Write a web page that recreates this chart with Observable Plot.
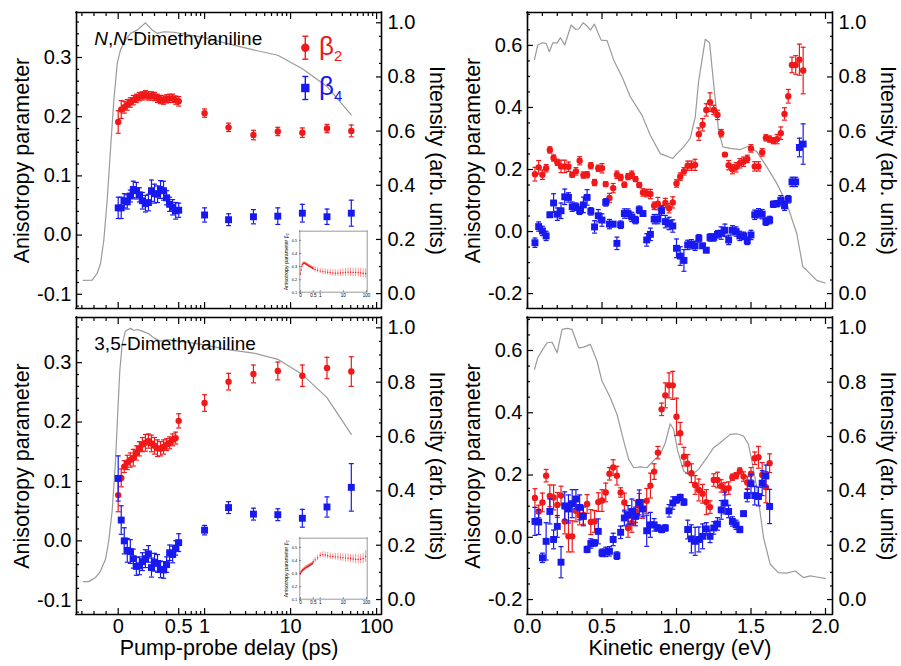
<!DOCTYPE html>
<html><head><meta charset="utf-8">
<script src="https://cdn.jsdelivr.net/npm/d3@7"></script>
<script src="https://cdn.jsdelivr.net/npm/@observablehq/plot@0.6"></script>
<style>
html,body{margin:0;padding:0;background:#fff;}
#root{position:relative;width:901px;height:666px;overflow:hidden;font-family:"Liberation Sans",Arial,sans-serif;}
#root svg{position:absolute;}
</style></head><body><div id="root"></div>
<script>
// ---------------- DATA ----------------
// pump-probe delays (ps)
const delayDense = [0,0.025,0.05,0.075,0.1,0.125,0.15,0.175,0.2,0.225,0.25,0.275,0.3,0.325,0.35,0.375,0.4,0.425,0.45,0.475,0.5];
const delayLong = [1,1.9,3.7,7.1,13.7,26.5,50.8];
const delays = delayDense.concat(delayLong);

// N,N-Dimethylaniline, time-resolved
const nnB2 = [0.191,0.212,0.216,0.220,0.224,0.228,0.231,0.234,0.235,0.237,0.235,0.235,0.234,0.231,0.229,0.228,0.230,0.231,0.231,0.228,0.226, 0.206,0.182,0.169,0.175,0.173,0.180,0.176];
const nnB2Err = [0.019,0.015,0.010,0.009,0.008,0.008,0.007,0.007,0.007,0.007,0.007,0.007,0.007,0.007,0.007,0.007,0.007,0.007,0.007,0.007,0.008, 0.007,0.007,0.008,0.007,0.008,0.007,0.010];
const nnB4 = [0.046,0.046,0.058,0.056,0.066,0.077,0.075,0.068,0.058,0.053,0.055,0.075,0.070,0.069,0.077,0.075,0.063,0.052,0.047,0.041,0.042, 0.034,0.026,0.031,0.032,0.037,0.031,0.037];
const nnB4Err = [0.018,0.018,0.012,0.012,0.010,0.014,0.014,0.012,0.014,0.014,0.014,0.018,0.016,0.014,0.015,0.016,0.012,0.012,0.013,0.014,0.012, 0.012,0.010,0.012,0.014,0.015,0.013,0.022];
const nnIntDelay = [-0.289,-0.215,-0.174,-0.146,-0.119,-0.091,-0.064,-0.036,-0.008,0.019,0.06,0.102,0.157,0.226,0.281,0.322,0.377,0.46,1,1.9,3.7,7.1,13.7,26.5,50.8];
const nnIntTime = [0.049,0.05,0.075,0.111,0.197,0.345,0.53,0.714,0.85,0.9,0.936,0.961,0.973,1.0,0.973,0.961,0.967,0.965,0.945,0.922,0.9,0.88,0.83,0.765,0.66];

// 3,5-Dimethylaniline, time-resolved
const dmB2 = [0.077,0.106,0.125,0.132,0.136,0.140,0.148,0.155,0.162,0.165,0.168,0.164,0.160,0.156,0.155,0.158,0.162,0.165,0.170,0.173,0.202, 0.232,0.268,0.281,0.286,0.278,0.291,0.285];
const dmB2Err = [0.028,0.015,0.010,0.012,0.012,0.014,0.012,0.012,0.012,0.014,0.012,0.014,0.014,0.014,0.012,0.012,0.010,0.010,0.010,0.010,0.012, 0.014,0.014,0.015,0.015,0.018,0.018,0.025];
const dmB4 = [0.105,0.035,0.000,-0.016,-0.018,-0.030,-0.043,-0.042,-0.035,-0.030,-0.022,-0.045,-0.036,-0.038,-0.048,-0.049,-0.040,-0.020,-0.023,-0.012,-0.003, 0.018,0.056,0.045,0.044,0.038,0.057,0.090];
const dmB4Err = [0.038,0.024,0.022,0.020,0.020,0.016,0.015,0.015,0.015,0.015,0.014,0.016,0.015,0.015,0.014,0.014,0.013,0.013,0.014,0.012,0.015, 0.008,0.010,0.010,0.010,0.015,0.017,0.040];
const dmIntDelay = [-0.289,-0.243,-0.188,-0.146,-0.105,-0.078,-0.05,-0.022,-0.003,0.013,0.033,0.06,0.102,0.129,0.157,0.198,0.253,0.294,0.35,0.405,0.46,0.561,0.915,1.87,3.7,7.1,13.7,26.5,50.8];
const dmIntTime = [0.066,0.066,0.081,0.105,0.148,0.216,0.326,0.51,0.694,0.84,0.939,0.988,0.998,0.99,0.994,0.988,0.978,0.963,0.951,0.957,0.953,0.949,0.939,0.92,0.907,0.884,0.828,0.743,0.608];

// kinetic energy bins (eV)
const nnEnergy = [0.05,0.075,0.1,0.125,0.15,0.175,0.2,0.225,0.25,0.275,0.3,0.325,0.35,0.375,0.4,0.425,0.45,0.475,0.5,0.525,0.55,0.575,0.6,0.625,0.65,0.675,0.7,0.725,0.75,0.775,0.8,0.825,0.85,0.875,0.9,0.925,0.95,0.975,1,1.025,1.05,1.075,1.1,1.125,1.15,1.175,1.2,1.225,1.25,1.275,1.3,1.325,1.35,1.375,1.4,1.425,1.45,1.475,1.5,1.525,1.55,1.575,1.6,1.625,1.65,1.675,1.7,1.725,1.75,1.775,1.8,1.825,1.85];
const dmEnergy = [0.05,0.075,0.1,0.125,0.15,0.175,0.2,0.225,0.25,0.275,0.3,0.325,0.35,0.375,0.4,0.425,0.45,0.475,0.5,0.525,0.55,0.575,0.6,0.625,0.65,0.675,0.7,0.725,0.75,0.775,0.8,0.825,0.85,0.875,0.9,0.925,0.95,0.975,1,1.025,1.05,1.075,1.1,1.125,1.15,1.175,1.2,1.225,1.25,1.275,1.3,1.325,1.35,1.375,1.4,1.425,1.45,1.475,1.5,1.525,1.55,1.575,1.6,1.625];

// N,N-Dimethylaniline, energy-resolved
const nnEB2 = [0.185,0.207,0.183,0.204,0.263,0.237,0.223,0.210,0.210,0.209, 0.183,0.194,0.228,0.182,0.183,0.212,0.158,0.204,0.204,0.153, 0.108,0.140,0.183,0.174,0.151,0.177,0.183,0.169,0.150,0.126, 0.124,0.121,0.083,0.090,0.072,0.092,0.075,0.094,0.155,0.177, 0.194,0.212,0.212,0.215,0.314,0.344,0.392,0.417,0.392,0.376, 0.317,0.248,0.214,0.201,0.207,0.220,0.225,0.234,0.268,0.210, 0.210,0.255,0.302,0.298,0.293,0.298,0.317,0.379,0.436,0.537, 0.537,0.554,0.519];
const nnEB2Err = [0.022,0.022,0.015,0.012,0.010,0.010,0.010,0.020,0.020,0.015, 0.008,0.012,0.013,0.010,0.010,0.010,0.010,0.010,0.015,0.008, 0.015,0.015,0.012,0.010,0.008,0.010,0.012,0.008,0.008,0.012, 0.012,0.015,0.012,0.020,0.012,0.015,0.015,0.018,0.012,0.012, 0.012,0.015,0.015,0.018,0.020,0.020,0.020,0.030,0.015,0.015, 0.012,0.005,0.015,0.015,0.015,0.015,0.015,0.012,0.012,0.015, 0.015,0.012,0.010,0.010,0.010,0.015,0.020,0.020,0.022,0.025, 0.030,0.050,0.075];
const nnEB4 = [-0.036,0.016,0.002,-0.014,0.054,0.092,0.056,0.067,0.112,0.110, 0.080,0.080,0.067,0.086,0.110,0.065,0.015,0.051,0.037,0.094, 0.024,0.024,-0.038,0.022,0.058,0.058,0.047,0.037,0.070,0.058, -0.027,-0.009,0.040,0.040,0.067,0.032,0.026,0.018,-0.054,-0.079, -0.093,-0.043,-0.041,-0.046,-0.022,-0.046,-0.060,-0.019,-0.019,-0.009, -0.005,0.004,-0.027,0.004,0.000,-0.014,-0.014,-0.030,-0.011,0.054, 0.059,0.056,0.032,0.037,0.088,0.090,0.101,0.083,0.104,0.160, 0.160,0.271,0.282];
const nnEB4Err = [0.015,0.015,0.015,0.015,0.008,0.030,0.020,0.025,0.025,0.015, 0.015,0.012,0.012,0.025,0.025,0.012,0.020,0.020,0.020,0.012, 0.015,0.008,0.020,0.012,0.015,0.015,0.015,0.012,0.012,0.008, 0.020,0.020,0.015,0.015,0.015,0.020,0.020,0.020,0.030,0.030, 0.035,0.015,0.015,0.015,0.012,0.008,0.008,0.012,0.012,0.012, 0.020,0.020,0.015,0.015,0.015,0.015,0.012,0.012,0.015,0.015, 0.015,0.015,0.012,0.012,0.010,0.010,0.015,0.015,0.012,0.015, 0.015,0.030,0.065];
const nnIntEnergy = [0.047,0.069,0.098,0.125,0.147,0.17,0.199,0.221,0.25,0.293,0.322,0.344,0.373,0.4,0.422,0.449,0.494,0.534,0.579,0.635,0.69,0.768,0.824,0.891,0.976,1.003,1.048,1.092,1.126,1.148,1.171,1.193,1.222,1.249,1.282,1.311,1.361,1.428,1.483,1.539,1.606,1.673,1.74,1.807,1.848,1.874,1.941,1.997];
const nnIntE = [0.865,0.918,0.926,0.924,0.893,0.926,0.926,0.945,0.918,0.992,0.976,0.977,1.0,0.988,0.973,0.995,0.936,0.934,0.862,0.8,0.727,0.659,0.585,0.517,0.499,0.517,0.542,0.573,0.653,0.782,0.862,0.939,0.926,0.776,0.604,0.542,0.536,0.532,0.544,0.524,0.468,0.407,0.333,0.222,0.099,0.086,0.049,0.039];

// 3,5-Dimethylaniline, energy-resolved
const dmEB2 = [0.126,0.083,0.112,0.198,0.133,0.128,0.104,0.134,0.051,0.003, 0.003,0.085,0.070,0.072,0.107,0.049,0.051,0.113,0.118,0.144, 0.204,0.224,0.198,0.144,0.112,0.030,0.046,0.083,0.101,0.091, 0.117,0.166,0.211,0.272,0.411,0.456,0.488,0.488,0.387,0.334, 0.259,0.236,0.206,0.168,0.152,0.140,0.113,0.097,0.184,0.184, 0.165,0.156,0.158,0.193,0.198,0.213,0.195,0.176,0.204,0.254, 0.257,0.200,0.161,0.238];
const dmEB2Err = [0.030,0.020,0.030,0.020,0.035,0.040,0.040,0.030,0.040,0.050, 0.050,0.035,0.030,0.030,0.030,0.040,0.035,0.030,0.035,0.030, 0.020,0.025,0.030,0.015,0.030,0.030,0.030,0.035,0.040,0.030, 0.040,0.040,0.025,0.020,0.020,0.040,0.040,0.045,0.060,0.035, 0.030,0.030,0.030,0.030,0.035,0.030,0.040,0.020,0.020,0.025, 0.020,0.020,0.020,0.010,0.010,0.010,0.015,0.020,0.020,0.020, 0.035,0.040,0.050,0.030];
const dmEB4 = [0.051,0.049,-0.066,-0.013,0.083,-0.007,0.035,-0.080,0.101,0.091, 0.108,0.123,0.096,0.067,-0.039,-0.020,-0.018,0.019,-0.050,-0.047, -0.045,-0.007,-0.059,0.016,0.062,0.072,0.083,0.067,0.112,0.091, 0.021,0.040,0.040,0.030,0.025,0.030,0.085,0.110,0.120,0.128, 0.113,0.025,-0.005,-0.013,-0.007,0.003,0.027,0.003,0.030,0.043, 0.088,0.110,0.083,0.051,0.040,0.025,0.076,0.134,0.172,0.134, 0.131,0.174,0.197,0.099];
const dmEB4Err = [0.045,0.040,0.015,0.060,0.040,0.030,0.035,0.050,0.045,0.045, 0.045,0.030,0.040,0.030,0.010,0.015,0.010,0.040,0.012,0.015, 0.015,0.020,0.012,0.020,0.025,0.030,0.040,0.030,0.040,0.025, 0.050,0.040,0.020,0.010,0.010,0.010,0.020,0.020,0.010,0.010, 0.010,0.030,0.045,0.045,0.040,0.040,0.020,0.020,0.020,0.020, 0.030,0.035,0.020,0.015,0.015,0.010,0.008,0.020,0.030,0.030, 0.030,0.040,0.035,0.055];
const dmIntEnergy = [0.047,0.069,0.098,0.132,0.165,0.199,0.232,0.266,0.299,0.344,0.378,0.422,0.467,0.5,0.556,0.601,0.646,0.679,0.713,0.757,0.802,0.847,0.891,0.925,0.958,0.981,1.008,1.048,1.092,1.148,1.204,1.249,1.293,1.361,1.405,1.45,1.483,1.506,1.539,1.584,1.629,1.684,1.74,1.796,1.852,1.897,1.941,1.997];
const dmIntE = [0.847,0.89,0.917,0.945,0.947,0.908,0.994,0.998,0.994,0.926,0.929,0.939,0.877,0.804,0.743,0.681,0.583,0.516,0.485,0.488,0.485,0.512,0.534,0.577,0.647,0.626,0.547,0.473,0.455,0.479,0.522,0.559,0.577,0.608,0.61,0.602,0.571,0.51,0.412,0.228,0.13,0.099,0.097,0.105,0.081,0.087,0.083,0.078];

// insets (beta2, wide delay range)
const insetDelay = [0,0.025,0.05,0.075,0.1,0.125,0.15,0.175,0.2,0.225,0.25,0.275,0.3,0.325,0.35,0.375,0.4,0.425,0.45,0.475,0.5, 0.6,0.77,1.0,1.3,1.65,2.1,2.7,3.5,4.5,5.8,7.5,9.6,12.4,16,20.5,26.5,34,44,56,72,92];
const insetNnB2 = [0.245,0.275,0.300,0.315,0.322,0.326,0.326,0.324,0.322,0.318,0.315,0.312,0.308,0.305,0.302,0.300,0.297,0.294,0.291,0.288,0.285, 0.278,0.272,0.266,0.262,0.260,0.257,0.255,0.252,0.250,0.250,0.252,0.254,0.256,0.258,0.258,0.256,0.255,0.254,0.252,0.250,0.248];
const insetNnErr = [0.015,0.012,0.012,0.01,0.01,0.01,0.01,0.01,0.01,0.01,0.01,0.01,0.01,0.01,0.01,0.01,0.01,0.01,0.01,0.01,0.012, 0.02,0.02,0.02,0.022,0.022,0.022,0.025,0.025,0.025,0.025,0.028,0.028,0.03,0.03,0.032,0.032,0.032,0.035,0.035,0.035,0.035];
const insetDmB2 = [0.300,0.310,0.318,0.324,0.328,0.332,0.336,0.340,0.344,0.347,0.350,0.353,0.356,0.359,0.362,0.365,0.368,0.371,0.374,0.378,0.390, 0.405,0.420,0.440,0.445,0.442,0.436,0.432,0.430,0.428,0.426,0.424,0.422,0.420,0.418,0.415,0.412,0.410,0.408,0.410,0.415,0.430];
const insetDmErr = [0.015,0.012,0.012,0.012,0.012,0.012,0.012,0.012,0.012,0.012,0.012,0.012,0.012,0.012,0.012,0.012,0.012,0.012,0.012,0.012,0.015, 0.02,0.02,0.022,0.022,0.022,0.025,0.025,0.025,0.025,0.025,0.028,0.028,0.03,0.03,0.032,0.032,0.035,0.035,0.035,0.04,0.045];

// ticks
const delayMajor = [0,0.5,1,10,100];
const delayMajorLabels = ["0","0.5","1","10","100"];
const delayMinor = [-0.3,-0.2,-0.1,0.1,0.2,0.3,0.4,0.6,0.7,0.8,0.9,2,3,4,5,6,7,8,9,20,30,40,50,60,70,80,90];
const energyMajor = [0,0.5,1,1.5,2];
const energyMinor = [0.1,0.2,0.3,0.4,0.6,0.7,0.8,0.9,1.1,1.2,1.3,1.4,1.6,1.7,1.8,1.9];
const anisoMajorT = [-0.1,0,0.1,0.2,0.3];
const anisoMinorT = [-0.12,-0.08,-0.06,-0.04,-0.02,0.02,0.04,0.06,0.08,0.12,0.14,0.16,0.18,0.22,0.24,0.26,0.28,0.32,0.34,0.36];
const anisoMajorE = [-0.2,0,0.2,0.4,0.6];
const anisoMinorE = [-0.15,-0.1,-0.05,0.05,0.1,0.15,0.25,0.3,0.35,0.45,0.5,0.55,0.65,0.7];
const intMajor = [0,0.2,0.4,0.6,0.8,1.0];
const intMinor = [0.05,0.1,0.15,0.25,0.3,0.35,0.45,0.5,0.55,0.65,0.7,0.75,0.85,0.9,0.95];
const insetYTicks = [0.1,0.2,0.3,0.4,0.5];

// ---------------- DRAWING ----------------
const FONT = "'Liberation Sans', Arial, Helvetica, sans-serif";
const RED = "#f01818", BLUE = "#1818f0", GRAY = "#9a9a9a";
const K = 86/121;                       // log-decade width relative to 1 ps of linear range
const toU = t => t <= 0.5 ? t : 0.5 + K*Math.log10(t/0.5);
const KI = 0.906;
const toUi = t => t <= 0.5 ? t : 0.5 + KI*Math.log10(t/0.5);
const f1 = d => d.toFixed(1);
const root = document.getElementById("root");

const capSym = {draw(ctx, size){ const w = Math.sqrt(size/Math.PI); ctx.moveTo(-w,0); ctx.lineTo(w,0); }};
const rowsOf = (xs, vs, es, fx = d=>d) => vs.map((v,i)=>({x: fx(xs[i]), v, e: es ? es[i] : 0}));

function errMarks(rows, color, symbol, r) {
  return [
    Plot.ruleX(rows, {x:"x", y1:d=>d.v-d.e, y2:d=>d.v+d.e, stroke:color, strokeWidth:1.2}),
    Plot.dot(rows, {x:"x", y:d=>d.v-d.e, symbol:capSym, r:2.5, stroke:color, strokeWidth:1.2, fill:"none"}),
    Plot.dot(rows, {x:"x", y:d=>d.v+d.e, symbol:capSym, r:2.5, stroke:color, strokeWidth:1.2, fill:"none"}),
    Plot.dot(rows, {x:"x", y:"v", symbol, r, fill:color, stroke:"none"})
  ];
}
function frameRules(xd, yd, sw, color) {
  return [
    Plot.ruleX(xd, {stroke:color, strokeWidth:sw, strokeLinecap:"square"}),
    Plot.ruleY(yd, {stroke:color, strokeWidth:sw, strokeLinecap:"square"})
  ];
}

function place(svg, left, top) {
  svg.style.position = "absolute"; svg.style.left = left+"px"; svg.style.top = top+"px";
  root.appendChild(svg);
}

function drawPanel(c) {
  const base = {width:c.w, height:c.h, marginLeft:c.ml, marginRight:c.mr, marginTop:c.mt, marginBottom:c.mb,
    style:{fontFamily:FONT, fontSize:"20px", overflow:"visible", background:"transparent"}};
  const back = Plot.plot({...base,
    x:{type:"linear", domain:c.xDomain, axis:null},
    y:{domain:[-0.055,1.038]},
    marks:[
      Plot.line(c.intensity, {x:"x", y:"v", stroke:GRAY, strokeWidth:1.2}),
      Plot.axisY({anchor:"right", ticks:intMajor, tickSize:0, tickPadding:6, tickFormat:f1, fontSize:20, label:null}),
      Plot.axisY({anchor:"right", ticks:intMajor, tickSize:6, dx:-6, fill:"none", strokeWidth:1.2, label:null}),
      Plot.axisY({anchor:"right", ticks:intMinor, tickSize:3, dx:-3, fill:"none", strokeWidth:1.2, label:null}),
      Plot.text(["Intensity (arb. units)"], {frameAnchor:"right", dx:55, rotate:90, fontSize:21.5, textAnchor:"middle", lineAnchor:"middle", text:d=>d})
    ]});
  const fmtMap = new Map(c.xMajor.map((u,i)=>[u, c.xLabels[i]]));
  const front = Plot.plot({...base,
    x:{type:"linear", domain:c.xDomain},
    y:{domain:c.yDomain},
    marks:[
      ...errMarks(c.b2, RED, "circle", 3.2),
      ...errMarks(c.b4, BLUE, "square", 3.9),
      ...frameRules(c.xDomain, c.yDomain, 1.6, "#000"),
      Plot.axisY({anchor:"left", ticks:c.yMajor, tickSize:0, tickPadding:5, tickFormat:f1, fontSize:20, label:null}),
      Plot.axisY({anchor:"left", ticks:c.yMajor, tickSize:6, dx:6, fill:"none", strokeWidth:1.2, label:null}),
      Plot.axisY({anchor:"left", ticks:c.yMinor, tickSize:3, dx:3, fill:"none", strokeWidth:1.2, label:null}),
      Plot.axisX({anchor:"bottom", ticks:c.xMajor, tickSize:6, dy:-6, fill:"none", strokeWidth:1.2, label:null}),
      Plot.axisX({anchor:"bottom", ticks:c.xMinor, tickSize:3, dy:-3, fill:"none", strokeWidth:1.2, label:null}),
      Plot.axisX({anchor:"top", ticks:c.xMajor, tickSize:6, dy:6, fill:"none", strokeWidth:1.2, label:null}),
      Plot.axisX({anchor:"top", ticks:c.xMinor, tickSize:3, dy:3, fill:"none", strokeWidth:1.2, label:null}),
      Plot.text(["Anisotropy parameter"], {frameAnchor:"left", dx:-54, rotate:-90, fontSize:21.5, textAnchor:"middle", lineAnchor:"middle", text:d=>d}),
      ...(c.bottom ? [
        Plot.axisX({anchor:"bottom", ticks:c.xMajor, tickSize:0, tickPadding:4, tickFormat:d=>fmtMap.get(d), fontSize:20, label:null}),
        Plot.text([c.xLabel], {frameAnchor:"bottom", dy:34, fontSize:21.5, textAnchor:"middle", lineAnchor:"middle", text:d=>d})
      ] : [])
    ]});
  place(back, c.left, c.top);
  place(front, c.left, c.top);
}

const delayCfg = {xDomain:[-0.3446,2.176], xMajor:delayMajor.map(toU), xLabels:delayMajorLabels, xMinor:delayMinor.map(toU),
  yDomain:[-0.124,0.376], yMajor:anisoMajorT, yMinor:anisoMinorT, xLabel:"Pump-probe delay (ps)"};
const energyCfg = {xDomain:[0,2.047], xMajor:energyMajor, xLabels:["0.0","0.5","1.0","1.5","2.0"], xMinor:energyMinor,
  yDomain:[-0.248,0.706], yMajor:anisoMajorE, yMinor:anisoMinorE, xLabel:"Kinetic energy (eV)"};

drawPanel({...delayCfg, left:0, top:0, w:450, h:310, ml:76, mr:69, mt:12, mb:2, bottom:false,
  b2:rowsOf(delays, nnB2, nnB2Err, toU), b4:rowsOf(delays, nnB4, nnB4Err, toU), intensity:rowsOf(nnIntDelay, nnIntTime, null, toU)});
drawPanel({...energyCfg, left:450, top:0, w:450, h:310, ml:77, mr:68, mt:12, mb:2, bottom:false,
  b2:rowsOf(nnEnergy, nnEB2, nnEB2Err), b4:rowsOf(nnEnergy, nnEB4, nnEB4Err), intensity:rowsOf(nnIntEnergy, nnIntE)});
drawPanel({...delayCfg, left:0, top:310, w:450, h:356, ml:76, mr:69, mt:7, mb:52, bottom:true,
  b2:rowsOf(delays, dmB2, dmB2Err, toU), b4:rowsOf(delays, dmB4, dmB4Err, toU), intensity:rowsOf(dmIntDelay, dmIntTime, null, toU)});
drawPanel({...energyCfg, left:450, top:310, w:450, h:356, ml:77, mr:68, mt:7, mb:52, bottom:true,
  b2:rowsOf(dmEnergy, dmEB2, dmEB2Err), b4:rowsOf(dmEnergy, dmEB4, dmEB4Err), intensity:rowsOf(dmIntEnergy, dmIntE)});

function drawInset(left, top, vals, errs) {
  const rows = rowsOf(insetDelay, vals, errs, toUi);
  const inMajor = delayMajor.map(toUi);
  const m = new Map(inMajor.map((u,i)=>[u, delayMajorLabels[i]]));
  const xd = [-0.0274,2.613], yd = [0.105,0.57];
  const svg = Plot.plot({width:100, height:80, marginLeft:27.3, marginRight:5.3, marginTop:6.7, marginBottom:12.3,
    x:{type:"linear", domain:xd}, y:{domain:yd},
    style:{fontFamily:FONT, overflow:"visible", background:"transparent"},
    marks:[
      Plot.ruleX(rows, {x:"x", y1:d=>d.v-d.e, y2:d=>d.v+d.e, stroke:RED, strokeOpacity:0.55, strokeWidth:0.8}),
      Plot.dot(rows, {x:"x", y:"v", r:0.7, fill:RED}),
      ...frameRules(xd, yd, 0.6, "#555"),
      Plot.axisY({anchor:"left", ticks:insetYTicks, tickSize:0, tickPadding:2.5, tickFormat:f1, fontSize:4, label:null}),
      Plot.axisY({anchor:"left", ticks:insetYTicks, tickSize:1.5, dx:1.5, fill:"none", strokeWidth:0.5, label:null}),
      Plot.axisX({anchor:"bottom", ticks:inMajor, tickSize:0, tickPadding:1.5, tickFormat:d=>m.get(d), fontSize:4.5, label:null}),
      Plot.axisX({anchor:"bottom", ticks:inMajor, tickSize:1.5, dy:-1.5, fill:"none", strokeWidth:0.5, label:null}),
      Plot.text(["Anisotropy parameter β₂"], {frameAnchor:"left", dx:-14, rotate:-90, fontSize:5.3, textAnchor:"middle", lineAnchor:"middle", text:d=>d})
    ]});
  place(svg, left, top);
}
drawInset(272, 224, insetNnB2, insetNnErr);
drawInset(272, 531, insetDmB2, insetDmErr);

// annotations: molecule names and legend
const legendItems = [
  {color:RED, symbol:"circle", sub:"2", cy:47.7},
  {color:BLUE, symbol:"square", sub:"4", cy:88}
];
const NS = "http://www.w3.org/2000/svg";
const ann = document.createElementNS(NS, "svg");
ann.setAttribute("width", 901); ann.setAttribute("height", 666);
ann.style.fontFamily = FONT;
let html = `<text x="94.3" y="45" font-size="19"><tspan font-style="italic">N</tspan>,<tspan font-style="italic">N</tspan>-Dimethylaniline</text>
<text x="94.3" y="350" font-size="19">3,5-Dimethylaniline</text>`;
for (const it of legendItems) {
  const x = 305.3, y = it.cy;
  html += `<g stroke="${it.color}" stroke-width="1.4"><line x1="${x}" x2="${x}" y1="${y-11.5}" y2="${y+11.5}"/>
  <line x1="${x-3}" x2="${x+3}" y1="${y-11.5}" y2="${y-11.5}"/><line x1="${x-3}" x2="${x+3}" y1="${y+11.5}" y2="${y+11.5}"/></g>`;
  html += it.symbol === "circle" ? `<circle cx="${x}" cy="${y}" r="4.2" fill="${it.color}"/>` : `<rect x="${x-4.2}" y="${y-4.2}" width="8.4" height="8.4" fill="${it.color}"/>`;
  html += `<text x="319" y="${y+6.8}" font-size="26" fill="${it.color}">β<tspan font-size="15" dy="6">${it.sub}</tspan></text>`;
}
ann.innerHTML = html;
ann.style.position = "absolute"; ann.style.left = "0px"; ann.style.top = "0px";
root.appendChild(ann);
</script></body></html>
